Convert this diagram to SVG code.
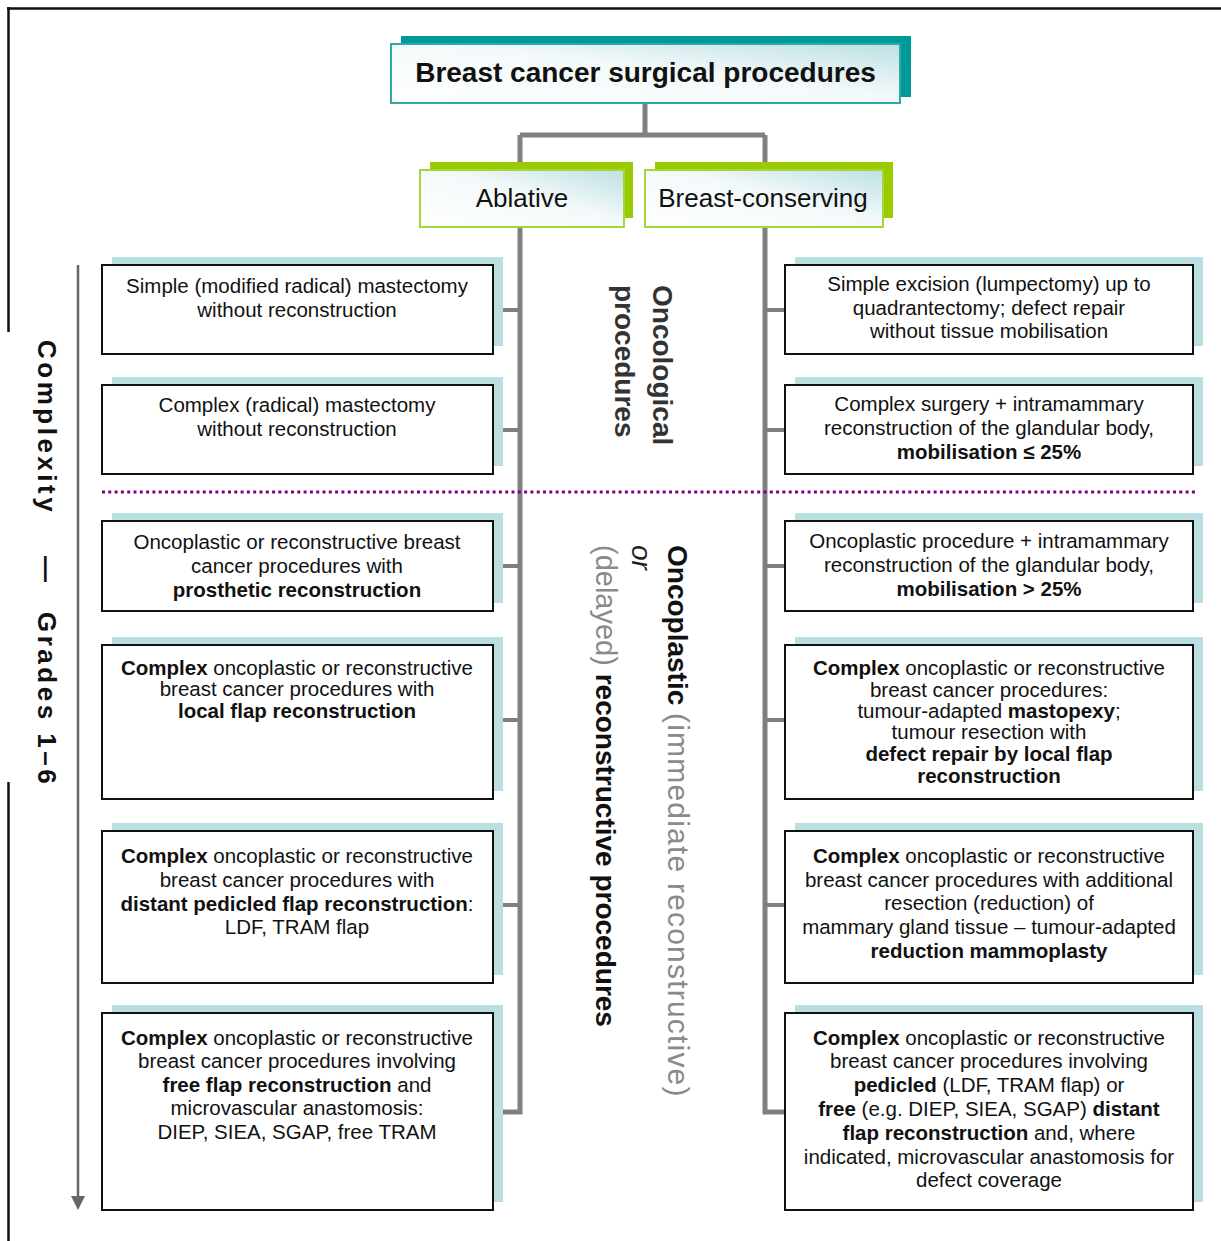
<svg xmlns="http://www.w3.org/2000/svg" width="1221" height="1241" viewBox="0 0 1221 1241">
<defs>
<linearGradient id="gFill" x1="0" y1="1" x2="1" y2="0">
<stop offset="0" stop-color="#ffffff"/>
<stop offset="0.55" stop-color="#f3f9fa"/>
<stop offset="1" stop-color="#bde0e3"/>
</linearGradient>
<marker id="arrow" viewBox="0 0 14 14" refX="1" refY="7" markerWidth="14" markerHeight="14" markerUnits="userSpaceOnUse" orient="auto">
<path d="M0,0 L14,7 L0,14 Z" fill="#666"/>
</marker>
<style>
.t{font-family:"Liberation Sans",Arial,sans-serif;font-size:20.5px;fill:#111;text-anchor:middle}
.b{font-weight:bold}
.box{fill:#fff;stroke:#111;stroke-width:2}
.sh{fill:#b9dfe1}
.conn{stroke:#808080;stroke-width:5;fill:none}
.stub{stroke:#808080;stroke-width:4;fill:none}
.rot{font-family:"Liberation Sans",Arial,sans-serif;font-size:28px;font-weight:bold;fill:#333}
.gray{font-weight:normal;fill:#8a8a8a}
</style>
</defs>
<rect width="1221" height="1241" fill="#fff"/>
<g id="frame" stroke="#111" stroke-width="2.5" fill="none">
<path d="M7,8.5 H1221"/>
<path d="M8.5,7 V332"/>
<path d="M8.5,782 V1241"/>
</g>
<g id="connectors">
<path class="conn" d="M645,103 V135 M520,135 H765 M520,135 V1112 H503 M765,135 V1112 H785"/>
<path class="stub" d="M503,310 H520 M503,430 H520 M503,566 H520 M503,720 H520 M503,905 H520"/>
<path class="stub" d="M765,310 H785 M765,430 H785 M765,566 H785 M765,720 H785 M765,905 H785"/>
<path d="M102,492 H1195" stroke="#800080" stroke-width="3" stroke-dasharray="3 3.3" fill="none"/>
<path d="M78,265 V1197" stroke="#666" stroke-width="2.5" fill="none" marker-end="url(#arrow)"/>
</g>
<g id="title">
<rect x="401" y="36" width="510" height="61" fill="#009999"/>
<rect x="391" y="44" width="509" height="59" fill="url(#gFill)" stroke="#2fa8a8" stroke-width="2"/>
<text x="645.5" y="82" text-anchor="middle" font-family="Liberation Sans, Arial, sans-serif" font-size="28" font-weight="bold" fill="#111">Breast cancer surgical procedures</text>
</g>
<g id="ablative">
<rect x="430" y="162" width="203" height="56" fill="#99cc00"/>
<rect x="420" y="170" width="204" height="57" fill="url(#gFill)" stroke="#a6d63a" stroke-width="2"/>
<text x="522" y="207" text-anchor="middle" font-family="Liberation Sans, Arial, sans-serif" font-size="26" fill="#111">Ablative</text>
</g>
<g id="breast-conserving">
<rect x="655" y="162" width="238" height="56" fill="#99cc00"/>
<rect x="645" y="170" width="238" height="57" fill="url(#gFill)" stroke="#a6d63a" stroke-width="2"/>
<text x="763" y="207" text-anchor="middle" font-family="Liberation Sans, Arial, sans-serif" font-size="26" fill="#111">Breast-conserving</text>
</g>
<g id="axis-label">
<text class="rot" transform="translate(38,340) rotate(90)" style="fill:#111;font-size:26px;letter-spacing:3.5px"><tspan x="0">Complexity</tspan><tspan x="216">—</tspan><tspan x="272">Grades 1–6</tspan></text>
</g>
<g id="label-oncological">
<text class="rot" transform="translate(653,285) rotate(90)">Oncological</text>
<text class="rot" transform="translate(615,285) rotate(90)">procedures</text>
</g>
<g id="label-oncoplastic">
<text class="rot" transform="translate(668,545) rotate(90)" style="fill:#111">Oncoplastic <tspan class="gray" style="font-size:30px;letter-spacing:1.2px">(immediate reconstructive)</tspan></text>
<text class="rot" transform="translate(632,545) rotate(90)" style="fill:#222;font-weight:normal;font-style:italic">or</text>
<text class="rot" transform="translate(596,545) rotate(90)" style="fill:#111"><tspan class="gray" style="font-size:29px">(delayed)</tspan> reconstructive procedures</text>
</g>
<g id="L1">
<rect class="sh" x="112" y="257" width="391" height="89"/>
<rect class="box" x="102" y="265" width="391" height="89"/>
<text class="t" x="297" y="293">Simple (modified radical) mastectomy</text>
<text class="t" x="297" y="317">without reconstruction</text>
</g>
<g id="L2">
<rect class="sh" x="112" y="377" width="391" height="89"/>
<rect class="box" x="102" y="385" width="391" height="89"/>
<text class="t" x="297" y="412">Complex (radical) mastectomy</text>
<text class="t" x="297" y="436">without reconstruction</text>
</g>
<g id="L3">
<rect class="sh" x="112" y="513" width="391" height="90"/>
<rect class="box" x="102" y="521" width="391" height="90"/>
<text class="t" x="297" y="549">Oncoplastic or reconstructive breast</text>
<text class="t" x="297" y="573">cancer procedures with</text>
<text class="t b" x="297" y="597">prosthetic reconstruction</text>
</g>
<g id="L4">
<rect class="sh" x="112" y="637" width="391" height="154"/>
<rect class="box" x="102" y="645" width="391" height="154"/>
<text class="t" x="297" y="675"><tspan class="b">Complex</tspan> oncoplastic or reconstructive</text>
<text class="t" x="297" y="696">breast cancer procedures with</text>
<text class="t b" x="297" y="718">local flap reconstruction</text>
</g>
<g id="L5">
<rect class="sh" x="112" y="823" width="391" height="152"/>
<rect class="box" x="102" y="831" width="391" height="152"/>
<text class="t" x="297" y="863"><tspan class="b">Complex</tspan> oncoplastic or reconstructive</text>
<text class="t" x="297" y="887">breast cancer procedures with</text>
<text class="t" x="297" y="911"><tspan class="b">distant pedicled flap reconstruction</tspan>:</text>
<text class="t" x="297" y="934">LDF, TRAM flap</text>
</g>
<g id="L6">
<rect class="sh" x="112" y="1005" width="391" height="197"/>
<rect class="box" x="102" y="1013" width="391" height="197"/>
<text class="t" x="297" y="1045"><tspan class="b">Complex</tspan> oncoplastic or reconstructive</text>
<text class="t" x="297" y="1068">breast cancer procedures involving</text>
<text class="t" x="297" y="1092"><tspan class="b">free flap reconstruction</tspan> and</text>
<text class="t" x="297" y="1115">microvascular anastomosis:</text>
<text class="t" x="297" y="1139">DIEP, SIEA, SGAP, free TRAM</text>
</g>
<g id="R1">
<rect class="sh" x="795" y="257" width="408" height="89"/>
<rect class="box" x="785" y="265" width="408" height="89"/>
<text class="t" x="989" y="291">Simple excision (lumpectomy) up to</text>
<text class="t" x="989" y="315">quadrantectomy; defect repair</text>
<text class="t" x="989" y="338">without tissue mobilisation</text>
</g>
<g id="R2">
<rect class="sh" x="795" y="377" width="408" height="89"/>
<rect class="box" x="785" y="385" width="408" height="89"/>
<text class="t" x="989" y="411">Complex surgery + intramammary</text>
<text class="t" x="989" y="435">reconstruction of the glandular body,</text>
<text class="t b" x="989" y="459">mobilisation ≤ 25%</text>
</g>
<g id="R3">
<rect class="sh" x="795" y="513" width="408" height="90"/>
<rect class="box" x="785" y="521" width="408" height="90"/>
<text class="t" x="989" y="548">Oncoplastic procedure + intramammary</text>
<text class="t" x="989" y="572">reconstruction of the glandular body,</text>
<text class="t b" x="989" y="596">mobilisation &gt; 25%</text>
</g>
<g id="R4">
<rect class="sh" x="795" y="637" width="408" height="154"/>
<rect class="box" x="785" y="645" width="408" height="154"/>
<text class="t" x="989" y="675"><tspan class="b">Complex</tspan> oncoplastic or reconstructive</text>
<text class="t" x="989" y="697">breast cancer procedures:</text>
<text class="t" x="989" y="718">tumour-adapted <tspan class="b">mastopexy</tspan>;</text>
<text class="t" x="989" y="739">tumour resection with</text>
<text class="t b" x="989" y="761">defect repair by local flap</text>
<text class="t b" x="989" y="783">reconstruction</text>
</g>
<g id="R5">
<rect class="sh" x="795" y="823" width="408" height="152"/>
<rect class="box" x="785" y="831" width="408" height="152"/>
<text class="t" x="989" y="863"><tspan class="b">Complex</tspan> oncoplastic or reconstructive</text>
<text class="t" x="989" y="887">breast cancer procedures with additional</text>
<text class="t" x="989" y="910">resection (reduction) of</text>
<text class="t" x="989" y="934">mammary gland tissue – tumour-adapted</text>
<text class="t b" x="989" y="958">reduction mammoplasty</text>
</g>
<g id="R6">
<rect class="sh" x="795" y="1005" width="408" height="197"/>
<rect class="box" x="785" y="1013" width="408" height="197"/>
<text class="t" x="989" y="1045"><tspan class="b">Complex</tspan> oncoplastic or reconstructive</text>
<text class="t" x="989" y="1068">breast cancer procedures involving</text>
<text class="t" x="989" y="1092"><tspan class="b">pedicled</tspan> (LDF, TRAM flap) or</text>
<text class="t" x="989" y="1116"><tspan class="b">free</tspan> (e.g. DIEP, SIEA, SGAP) <tspan class="b">distant</tspan></text>
<text class="t" x="989" y="1140"><tspan class="b">flap reconstruction</tspan> and, where</text>
<text class="t" x="989" y="1164">indicated, microvascular anastomosis for</text>
<text class="t" x="989" y="1187">defect coverage</text>
</g>
</svg>
